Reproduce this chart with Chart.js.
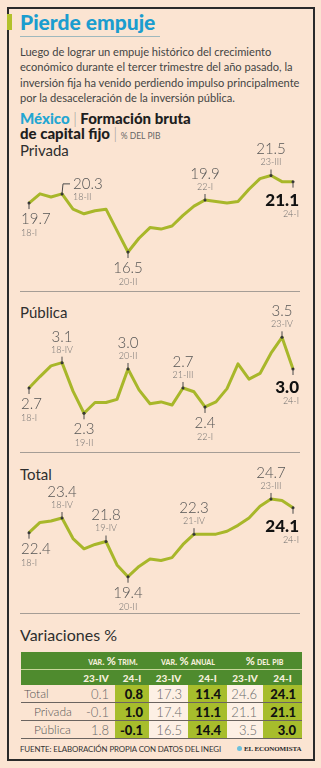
<!DOCTYPE html>
<html lang="es">
<head>
<meta charset="utf-8">
<title>Pierde empuje</title>
<script src="https://cdn.jsdelivr.net/npm/chart.js@4.4.1/dist/chart.umd.min.js"></script>
<style>
  html, body { margin: 0; padding: 0; }
  body {
    width: 321px; height: 768px; position: relative; overflow: hidden;
    background: #fbe4d2; color: #3a3a3a;
    font-family: Lato, "Open Sans", sans-serif;
  }
  .frame { position: absolute; left: 7px; top: 7px; width: 308px; height: 754px; box-sizing: border-box; border: 2px solid #2a2a2a; }
  .abs { position: absolute; white-space: nowrap; }
  .tbar { position: absolute; left: 7px; top: 14px; width: 5px; height: 16px; background: #b3c12b; }
  .title { left: 20px; top: 9px; font-weight: 900; font-size: 21px; line-height: 26px; color: #1b9dcf; }
  .uline { position: absolute; left: 20px; top: 36px; width: 140px; height: 1px; background: #9fb8bd; }
  .intro { left: 20px; top: 44px; font-size: 11.1px; line-height: 15.3px; color: #444; }
  .head { left: 20px; font-weight: 900; font-size: 15px; line-height: 16px; color: #1e1e1e; }
  .head .mx { color: #24a6d2; }
  .head .sep { font-weight: 300; color: #999; }
  .head .unit { font-weight: 400; font-size: 8.5px; color: #666; }
  .sub { left: 20px; font-size: 15px; line-height: 18px; color: #2e2e2e; }
  .rule { position: absolute; left: 20px; width: 280px; height: 1px; background: #a59d96; }
  canvas.ch { position: absolute; left: 0; }
  table.var { position: absolute; left: 21px; top: 652px; width: 281px; border-collapse: collapse; table-layout: fixed; }
  table.var th { background: #4f8b2e; color: #f6f0dc; font-weight: 900; padding: 0; text-align: center; }
  table.var tr.h1 th { height: 17px; font-size: 9.5px; font-variant: small-caps; border-bottom: 1px solid #c9d79b; }
  table.var tr.h1 th .pc { font-size: 11px; }
  table.var tr.h2 th { height: 15px; font-size: 10px; }
  table.var td { height: 17px; padding: 0 6px 0 0; text-align: right; font-size: 13px; font-weight: 300; color: #6a6a6a; border-bottom: 1px solid #6b6460; }
  table.var td.lbl { text-align: left; padding-left: 3px; color: #555; font-size: 12px; }
  table.var td.lbl.in { padding-left: 13px; }
  table.var td.lt { background: #fdf0e5; }
  table.var td.gr { background: #a7bd2c; color: #111; font-weight: 900; }
  .foot { left: 20px; top: 743px; font-size: 7.9px; line-height: 12px; color: #333; letter-spacing: -0.1px; }
  .logo { left: 244px; top: 743px; font-family: "Liberation Serif", "DejaVu Serif", serif; font-weight: bold; font-size: 7px; line-height: 12px; color: #2a2a2a; letter-spacing: -0.1px; }
  .dot { position: absolute; left: 237px; top: 746px; width: 5px; height: 5px; border-radius: 50%; background: #6cc0dc; }
</style>
</head>
<body>
<div class="frame"></div>
<div class="tbar"></div>
<div class="abs title">Pierde empuje</div>
<div class="uline"></div>
<div class="abs intro">Luego de lograr un empuje histórico del crecimiento<br>económico durante el tercer trimestre del año pasado, la<br>inversión fija ha venido perdiendo impulso principalmente<br>por la desaceleración de la inversión pública.</div>

<div class="abs head" style="top:110px"><span class="mx">México</span> <span class="sep">|</span> Formación bruta</div>
<div class="abs head" style="top:125px">de capital fijo <span class="sep">|</span> <span class="unit">% DEL PIB</span></div>

<div class="abs sub" style="top:141px">Privada</div>
<canvas class="ch" id="privadaChart" width="321" height="150" style="top:140px"></canvas>
<div class="rule" style="top:291px"></div>

<div class="abs sub" style="top:303px">Pública</div>
<canvas class="ch" id="publicaChart" width="321" height="150" style="top:300px"></canvas>
<div class="rule" style="top:452px"></div>

<div class="abs sub" style="top:465px">Total</div>
<canvas class="ch" id="totalChart" width="321" height="148" style="top:462px"></canvas>
<div class="rule" style="top:613px"></div>

<div class="abs sub" style="top:626px;font-size:16px">Variaciones %</div>
<table class="var" id="varTable"></table>

<div class="abs foot">FUENTE: ELABORACIÓN PROPIA CON DATOS DEL INEGI</div>
<div class="dot"></div>
<div class="abs logo">EL ECONOMISTA</div>

<script>
// trimestres
const quarters = ['18-I', '18-II', '18-III', '18-IV', '19-I', '19-II', '19-III', '19-IV',
  '20-I', '20-II', '20-III', '20-IV', '21-I', '21-II', '21-III', '21-IV',
  '22-I', '22-II', '22-III', '22-IV', '23-I', '23-II', '23-III', '23-IV', '24-I'];

// % del PIB
const privada = [19.7, 20.3, 20.1, 20.3, 19.3, 19.0, 19.2, 19.3, 17.9, 16.5, 17.4, 18.1, 18.0,
  18.2, 18.9, 19.5, 19.9, 19.8, 19.7, 19.8, 20.6, 21.3, 21.5, 21.1, 21.1];
const publica = [2.7, 2.88, 3.05, 3.1, 2.65, 2.3, 2.47, 2.47, 2.52, 3.0, 2.67, 2.45, 2.48,
  2.43, 2.7, 2.64, 2.4, 2.48, 2.69, 3.08, 2.84, 2.93, 3.25, 3.5, 3.0];
const total = [22.4, 23.1, 23.2, 23.4, 22.0, 21.3, 21.6, 21.8, 20.2, 19.4, 20.1, 20.6, 20.5,
  20.7, 21.6, 22.3, 22.3, 22.3, 22.5, 22.9, 23.4, 24.2, 24.7, 24.6, 24.1];

// puntos etiquetados
const privadaMarkIdx = [0, 3, 9, 16, 22, 24];
const privadaMarkTags = ['18-I', '18-II', '20-II', '22-I', '23-III', '24-I'];
const publicaMarkIdx = [0, 3, 5, 9, 14, 16, 23, 24];
const publicaMarkTags = ['18-I', '18-IV', '19-II', '20-II', '21-III', '22-I', '23-IV', '24-I'];
const totalMarkIdx = [0, 3, 7, 9, 15, 22, 24];
const totalMarkTags = ['18-I', '18-IV', '19-IV', '20-II', '21-IV', '23-III', '24-I'];

// tabla de variaciones
const rowNames = ['Total', 'Privada', 'Pública'];
const trim23 = ['0.1', '-0.1', '1.8'];
const trim24 = ['0.8', '1.0', '-0.1'];
const anual23 = ['17.3', '17.4', '16.5'];
const anual24 = ['11.4', '11.1', '14.4'];
const pib23 = ['24.6', '21.1', '3.5'];
const pib24 = ['24.1', '21.1', '3.0'];

const LINE_COLOR = '#a8b72a';

// etiquetas de valor sobre la línea
const markPlugin = {
  id: 'marks',
  afterDatasetsDraw(chart, args, opts) {
    const ctx = chart.ctx;
    const meta = chart.getDatasetMeta(0);
    const vals = chart.data.datasets[0].data;
    const last = vals.length - 1;
    opts.idx.forEach((i, k) => {
      const pt = meta.data[i];
      const x = pt.x, y = pt.y;
      const pos = opts.pos[k];
      const txt = vals[i].toFixed(1);
      const tag = opts.tags[k];
      ctx.save();
      ctx.strokeStyle = '#4a4a4a';
      ctx.fillStyle = '#333';
      ctx.lineWidth = 1;
      ctx.beginPath();
      ctx.arc(x, y, 1.5, 0, Math.PI * 2);
      ctx.fill();
      ctx.beginPath();
      ctx.moveTo(x, y);
      if (pos === 'above') ctx.lineTo(x, y - 6);
      else if (pos === 'right') { ctx.lineTo(x + 1, y - 10); ctx.lineTo(x + 8, y - 10); }
      else ctx.lineTo(x, y + 6);
      ctx.stroke();

      ctx.textBaseline = 'middle';
      let vx = x, vy, tx = x, ty, align = 'center';
      if (i === last) {
        align = 'right'; vx = tx = 299; vy = y + 18.5; ty = y + 32.5;
        ctx.font = '900 17px Lato';
        ctx.fillStyle = '#111';
      } else {
        ctx.font = '300 15px Lato';
        ctx.fillStyle = '#555';
        if (pos === 'above') { vy = y - 26; ty = y - 13; }
        else if (pos === 'right') { align = 'left'; vx = tx = x + 11; vy = y - 10; ty = y + 3; }
        else { vy = y + 16; ty = y + 30; }
        if (i === 0) { align = 'left'; vx = tx = 21; }
      }
      ctx.textAlign = align;
      ctx.fillText(txt, vx, vy);
      ctx.font = '300 9px Lato';
      ctx.fillStyle = '#6e6e6e';
      ctx.fillText(tag, tx, ty);
      ctx.restore();
    });
  }
};

function makeChart(id, values, yMin, yMax, idx, tags, pos) {
  const ctx = document.getElementById(id).getContext('2d');
  return new Chart(ctx, {
    type: 'line',
    data: {
      labels: quarters,
      datasets: [{
        data: values,
        borderColor: LINE_COLOR,
        borderWidth: 3,
        borderJoinStyle: 'round',
        tension: 0,
        pointRadius: 0,
        fill: false
      }]
    },
    options: {
      responsive: false,
      animation: false,
      devicePixelRatio: 1,
      layout: { padding: { left: 29, right: 28, top: 0, bottom: 0 } },
      plugins: {
        legend: { display: false },
        tooltip: { enabled: false },
        marks: { idx: idx, tags: tags, pos: pos }
      },
      scales: {
        x: { display: false },
        y: { display: false, min: yMin, max: yMax }
      }
    },
    plugins: [markPlugin]
  });
}

makeChart('privadaChart', privada, 14.02, 23.82, privadaMarkIdx, privadaMarkTags,
  ['below', 'right', 'below', 'above', 'above', 'below']);
makeChart('publicaChart', publica, 1.72, 4.09, publicaMarkIdx, publicaMarkTags,
  ['below', 'above', 'below', 'above', 'above', 'below', 'above', 'below']);
makeChart('totalChart', total, 17.13, 27.22, totalMarkIdx, totalMarkTags,
  ['below', 'above', 'above', 'below', 'above', 'above', 'below']);

// tabla
(function buildTable() {
  const t = document.getElementById('varTable');
  let html = '<colgroup><col style="width:56px"><col style="width:38px"><col style="width:34px">' +
    '<col style="width:39px"><col style="width:39px"><col style="width:36px"><col style="width:39px"></colgroup>';
  html += '<tr class="h1"><th></th><th colspan="2">var. <span class="pc">%</span> trim.</th>' +
    '<th colspan="2">var. <span class="pc">%</span> anual</th><th colspan="2"><span class="pc">%</span> del pib</th></tr>';
  html += '<tr class="h2"><th></th><th>23-IV</th><th>24-I</th><th>23-IV</th><th>24-I</th><th>23-IV</th><th>24-I</th></tr>';
  rowNames.forEach((n, r) => {
    html += '<tr><td class="lbl' + (r > 0 ? ' in' : '') + '">' + n + '</td>' +
      '<td>' + trim23[r] + '</td><td class="gr">' + trim24[r] + '</td>' +
      '<td class="lt">' + anual23[r] + '</td><td class="gr">' + anual24[r] + '</td>' +
      '<td class="lt">' + pib23[r] + '</td><td class="gr">' + pib24[r] + '</td></tr>';
  });
  t.innerHTML = html;
})();
</script>
</body>
</html>
